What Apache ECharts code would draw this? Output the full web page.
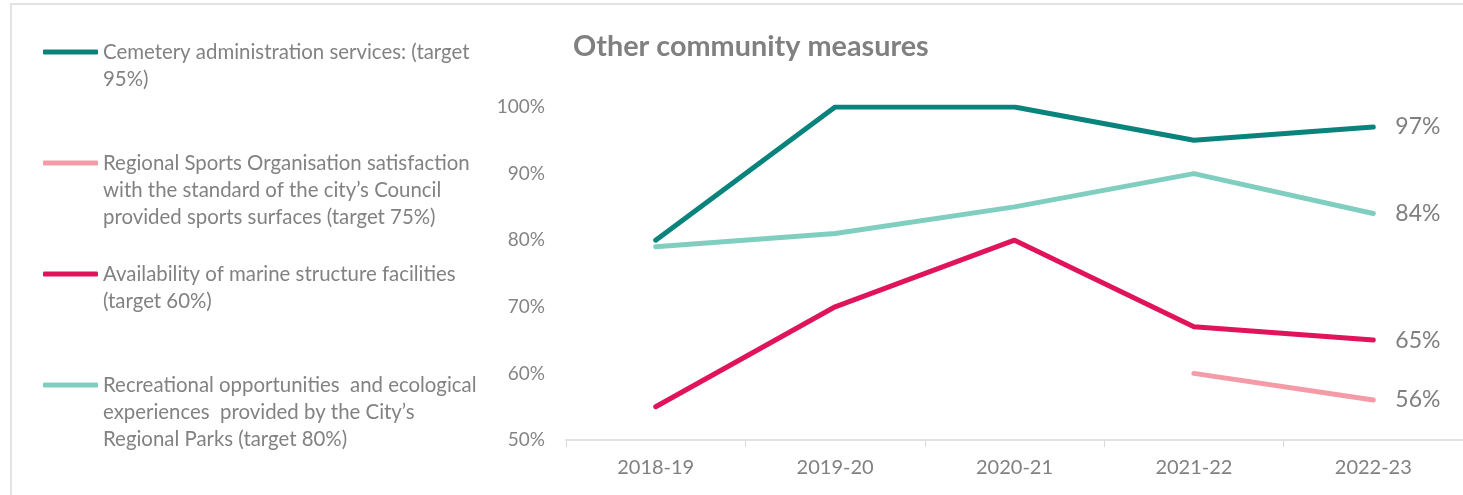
<!DOCTYPE html>
<html>
<head>
<meta charset="utf-8">
<script src="https://cdn.jsdelivr.net/npm/echarts@6/dist/echarts.min.js"></script>
<style>
  html, body { margin: 0; padding: 0; background: #fff; }
  #chart { width: 1463px; height: 495px; }
</style>
</head>
<body>
<div id="chart"></div>
<script>
var years = ['2018-19', '2019-20', '2020-21', '2021-22', '2022-23'];

var cemetery = [80, 100, 100, 95, 97];
var sports = [null, null, null, 60, 56];
var marine = [55, 70, 80, 67, 65];
var parks = [79, 81, 85, 90, 84];

var names = [
  'Cemetery administration services: (target\n95%)',
  'Regional Sports Organisation satisfaction\nwith the standard of the city\u2019s Council\nprovided sports surfaces (target 75%)',
  'Availability of marine structure facilities\n(target 60%)',
  'Recreational opportunities  and ecological\nexperiences  provided by the City\u2019s\nRegional Parks (target 80%)'
];
var colors = ['#0a837d', '#f49ba7', '#e0145a', '#80cebf'];
var values = [cemetery, sports, marine, parks];

var FONT = 'Lato';
var LH = 27;

var myChart = echarts.init(document.getElementById('chart'));

var legends = [];
var series = [];
for (var i = 0; i < names.length; i++) {
  var lines = names[i].split('\n').length;
  // blank lines in front so the icon sits on the first text line
  var pad = '';
  for (var k = 1; k < lines; k++) pad += '\n';
  legends.push({
    data: [names[i]],
    left: 43,
    top: 52 + i * 111 - (2 * lines - 1) * LH / 2,
    itemWidth: 55,
    itemHeight: 5,
    selectedMode: false,
    icon: 'roundRect',
    padding: 0,
    formatter: (function (p) { return function (n) { return p + n; }; })(pad),
    textStyle: {
      color: '#828282',
      fontFamily: FONT,
      fontSize: 20.4,
      lineHeight: LH
    }
  });
  series.push({
    name: names[i],
    type: 'line',
    data: values[i],
    symbol: 'none',
    itemStyle: { color: colors[i] },
    lineStyle: { width: 5, color: colors[i], cap: 'round', join: 'round' },
    connectNulls: false,
    endLabel: {
      show: true,
      formatter: '{c}%',
      distance: 22,
      color: '#7f7f7f',
      fontFamily: FONT,
      fontSize: 23
    },
    z: i == 0 ? 5 : 3
  });
}

option = {
  animation: false,
  textStyle: { fontFamily: FONT },
  title: {
    text: 'Other community measures',
    left: 568,
    top: 27,
    textStyle: {
      color: '#808080',
      fontFamily: FONT,
      fontWeight: 'bold',
      fontSize: 28.8
    }
  },
  legend: legends,
  graphic: [{
    type: 'rect',
    shape: { x: 11, y: 4, width: 1500, height: 560 },
    style: { fill: 'none', stroke: '#e2e2e2', lineWidth: 2 },
    silent: true,
    z: -1
  }],
  grid: {
    left: 566,
    right: -3,
    top: 107,
    bottom: 55
  },
  xAxis: {
    type: 'category',
    data: years,
    boundaryGap: true,
    axisLine: { lineStyle: { color: '#d9d9d9', width: 1.5 } },
    axisTick: { show: true, length: 7, lineStyle: { color: '#d9d9d9' } },
    axisLabel: {
      color: '#808080',
      fontFamily: FONT,
      fontSize: 20,
      margin: 18
    }
  },
  yAxis: {
    type: 'value',
    min: 50,
    max: 100,
    interval: 10,
    splitLine: { show: false },
    axisLine: { show: false },
    axisTick: { show: false },
    axisLabel: {
      color: '#858585',
      fontFamily: FONT,
      fontSize: 19,
      margin: 21,
      formatter: '{value}%'
    }
  },
  series: series
};
myChart.setOption(option);
</script>
</body>
</html>
